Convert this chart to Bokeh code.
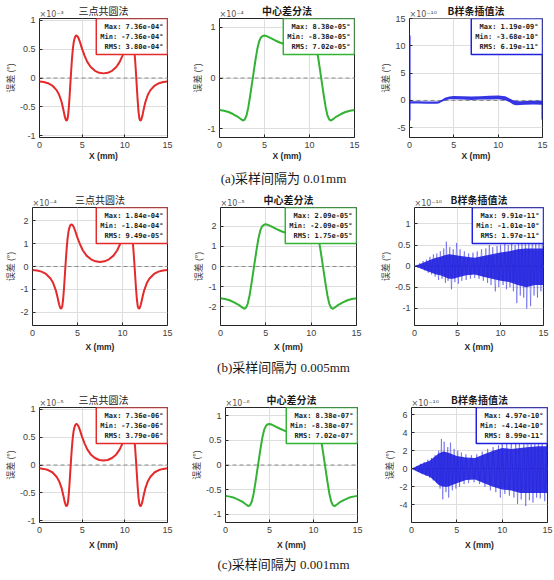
from bokeh.plotting import figure
from bokeh.models import Range1d, FixedTicker, Label, Span, Title
from bokeh.layouts import column, row
from bokeh.embed import file_html
from bokeh.resources import INLINE

# ---------------- data ----------------
titles = ["三点共圆法", "中心差分法", "B样条插值法"]
captions = ["(a)采样间隔为 0.01mm", "(b)采样间隔为 0.005mm", "(c)采样间隔为 0.001mm"]
x_ticks = [0, 5, 10, 15]

stat_max = [[7.36e-04, 8.38e-05, 1.19e-09], [1.84e-04, 2.09e-05, 9.91e-11], [7.36e-06, 8.38e-07, 4.97e-10]]
stat_min = [[-7.36e-04, -8.38e-05, -3.68e-10], [-1.84e-04, -2.09e-05, -1.01e-10], [-7.36e-06, -8.38e-07, -4.14e-10]]
stat_rms = [[3.80e-04, 7.02e-05, 6.19e-11], [9.49e-05, 1.75e-05, 1.97e-11], [3.79e-06, 7.02e-07, 8.99e-11]]
exponents = [[-3, -4, -10], [-4, -5, -10], [-5, -6, -10]]
y_ticks = [
    [[-1, -0.5, 0, 0.5, 1], [-1, 0, 1], [-5, 0, 5, 10, 15]],
    [[-2, -1, 0, 1, 2], [-2, -1, 0, 1, 2], [-1, -0.5, 0, 0.5, 1]],
    [[-1, -0.5, 0, 0.5, 1], [-1, -0.5, 0, 0.5, 1], [-4, -2, 0, 2, 4, 6]],
]

# three-point circle method (values in axis units, x10^exp)
tp_x = [0, 0.5, 1.0, 1.5, 2.0, 2.3, 2.6, 2.8, 2.95, 3.1, 3.2, 3.3, 3.4, 3.5, 3.6, 3.7, 3.8, 3.9, 4.0, 4.1,
        4.2, 4.3, 4.4, 4.55, 4.75, 5.0, 5.3, 5.6, 6.0, 6.5, 7.0, 7.5,
        8.0, 8.5, 9.0, 9.4, 9.7, 10.0, 10.25, 10.45, 10.6, 10.7, 10.8, 10.9, 11.0, 11.1, 11.2, 11.3,
        11.4, 11.5, 11.6, 11.7, 11.8, 11.9, 12.05, 12.2, 12.4, 12.7, 13.0, 13.5, 14.0, 14.5, 15.0]
tp_y_a = [-0.06, -0.07, -0.09, -0.13, -0.21, -0.29, -0.42, -0.55, -0.66, -0.73, -0.736, -0.70, -0.58, -0.38,
          -0.14, 0.10, 0.32, 0.49, 0.61, 0.68, 0.72, 0.736, 0.73, 0.70, 0.62, 0.50, 0.38, 0.28, 0.19, 0.125,
          0.09, 0.08,
          0.09, 0.125, 0.19, 0.28, 0.38, 0.50, 0.62, 0.70, 0.73, 0.736, 0.72, 0.68, 0.61, 0.49, 0.32, 0.10,
          -0.14, -0.38, -0.58, -0.70, -0.736, -0.73, -0.66, -0.55, -0.42, -0.29, -0.21, -0.13, -0.09, -0.07, -0.06]
tp_y_b = [-0.15, -0.175, -0.225, -0.325, -0.525, -0.725, -1.05, -1.375, -1.65, -1.825, -1.84, -1.75, -1.45,
          -0.95, -0.35, 0.25, 0.80, 1.225, 1.525, 1.70, 1.80, 1.84, 1.825, 1.75, 1.55, 1.25, 0.95, 0.70, 0.475,
          0.3125, 0.225, 0.20,
          0.225, 0.3125, 0.475, 0.70, 0.95, 1.25, 1.55, 1.75, 1.825, 1.84, 1.80, 1.70, 1.525, 1.225, 0.80, 0.25,
          -0.35, -0.95, -1.45, -1.75, -1.84, -1.825, -1.65, -1.375, -1.05, -0.725, -0.525, -0.325, -0.225,
          -0.175, -0.15]
tp_y_c = [-0.06, -0.07, -0.09, -0.13, -0.21, -0.29, -0.42, -0.55, -0.66, -0.73, -0.736, -0.70, -0.58, -0.38,
          -0.14, 0.10, 0.32, 0.49, 0.61, 0.68, 0.72, 0.736, 0.73, 0.70, 0.62, 0.50, 0.38, 0.28, 0.19, 0.125,
          0.09, 0.08,
          0.09, 0.125, 0.19, 0.28, 0.38, 0.50, 0.62, 0.70, 0.73, 0.736, 0.72, 0.68, 0.61, 0.49, 0.32, 0.10,
          -0.14, -0.38, -0.58, -0.70, -0.736, -0.73, -0.66, -0.55, -0.42, -0.29, -0.21, -0.13, -0.09, -0.07, -0.06]

# central difference method
cd_x = [0, 0.5, 1.0, 1.5, 2.0, 2.3, 2.6, 2.8, 3.0, 3.2, 3.4, 3.6, 3.8, 4.0, 4.2, 4.4, 4.6, 4.8, 5.0, 5.3,
        5.7, 6.2, 6.7, 7.1, 7.5,
        7.9, 8.3, 8.8, 9.3, 9.7, 10.0, 10.2, 10.4, 10.6, 10.8, 11.0, 11.2, 11.4, 11.6, 11.8, 12.0, 12.2,
        12.4, 12.7, 13.0, 13.5, 14.0, 14.5, 15.0]
cd_y_a = [-0.63, -0.645, -0.67, -0.71, -0.76, -0.80, -0.838, -0.82, -0.74, -0.58, -0.36, -0.12, 0.12, 0.36,
          0.57, 0.72, 0.80, 0.83, 0.838, 0.82, 0.785, 0.74, 0.70, 0.675, 0.668,
          0.675, 0.70, 0.74, 0.785, 0.82, 0.838, 0.83, 0.80, 0.72, 0.57, 0.36, 0.12, -0.12, -0.36, -0.58,
          -0.74, -0.82, -0.838, -0.80, -0.76, -0.71, -0.67, -0.645, -0.63]
cd_y_b = [-1.575, -1.6125, -1.675, -1.775, -1.90, -2.0, -2.095, -2.05, -1.85, -1.45, -0.90, -0.30, 0.30,
          0.90, 1.425, 1.80, 2.0, 2.075, 2.095, 2.05, 1.9625, 1.85, 1.75, 1.6875, 1.67,
          1.6875, 1.75, 1.85, 1.9625, 2.05, 2.095, 2.075, 2.0, 1.80, 1.425, 0.90, 0.30, -0.30, -0.90, -1.45,
          -1.85, -2.05, -2.095, -2.0, -1.90, -1.775, -1.675, -1.6125, -1.575]
cd_y_c = [-0.63, -0.645, -0.67, -0.71, -0.76, -0.80, -0.838, -0.82, -0.74, -0.58, -0.36, -0.12, 0.12, 0.36,
          0.57, 0.72, 0.80, 0.83, 0.838, 0.82, 0.785, 0.74, 0.70, 0.675, 0.668,
          0.675, 0.70, 0.74, 0.785, 0.82, 0.838, 0.83, 0.80, 0.72, 0.57, 0.36, 0.12, -0.12, -0.36, -0.58,
          -0.74, -0.82, -0.838, -0.80, -0.76, -0.71, -0.67, -0.645, -0.63]

# B-spline interpolation: dense band (low/high) + spikes
bs_a_x = [0.02, 1, 2, 3, 3.3, 3.6, 4.0, 4.5, 5, 6, 7, 8, 9, 10, 10.8, 11.3, 11.7, 12, 12.5, 13, 14, 14.98]
bs_a_lo = [-0.55, -0.55, -0.6, -0.6, -0.55, -0.3, 0.0, 0.2, 0.2, 0.15, 0.1, 0.15, 0.15, 0.2, 0.05, -0.35,
           -0.75, -0.9, -0.85, -0.8, -0.75, -0.8]
bs_a_hi = [-0.15, -0.15, -0.2, -0.2, -0.15, 0.1, 0.5, 0.7, 0.8, 0.75, 0.7, 0.75, 0.85, 0.9, 0.75, 0.35,
           0.05, -0.1, -0.15, -0.1, -0.05, -0.05]
bs_a_edge_x = [0, 15]
bs_a_edge_top = [11.9, 11.5]
bs_a_edge_bot = [-3.68, -3.5]

bs_b_x = [0, 0.5, 1, 1.5, 2, 2.5, 3, 3.5, 4, 4.5, 5, 6, 7, 8, 9, 10, 11, 12, 13, 14, 15]
bs_b_hi = [0, 0.04, 0.08, 0.12, 0.16, 0.2, 0.22, 0.26, 0.28, 0.27, 0.25, 0.22, 0.2, 0.24, 0.28, 0.32, 0.35,
           0.4, 0.42, 0.42, 0.42]
bs_b_lo = [0, -0.04, -0.08, -0.12, -0.16, -0.2, -0.22, -0.26, -0.3, -0.3, -0.27, -0.22, -0.2, -0.25, -0.3,
           -0.35, -0.38, -0.45, -0.5, -0.45, -0.45]
bs_b_zx = [0.2, 0.4, 0.6, 0.8, 1.0, 1.2, 1.4, 1.6, 1.8, 2.0, 2.2, 2.4, 2.6, 2.8, 3.0, 3.2, 3.4, 3.6,
           3.7, 3.9, 4.1, 4.3, 4.5, 4.7, 4.9, 5.1, 5.3, 5.5,
           5.8, 6.0, 6.3, 6.5, 6.8, 7.0, 7.3, 7.5, 7.8, 8.0, 8.3, 8.5,
           8.7, 8.9, 9.1, 9.4, 9.6, 9.8, 10.0, 10.3, 10.5, 10.7, 10.9, 11.1, 11.3, 11.5, 11.7, 11.9,
           12.1, 12.3, 12.5, 12.7, 12.9, 13.05, 13.3, 13.5, 13.7, 13.9, 14.1, 14.3, 14.5, 14.7, 14.85, 15.0]
bs_b_zy = [0.03, -0.04, 0.07, -0.06, 0.12, -0.10, 0.15, -0.16, 0.22, -0.20, 0.28, -0.25, 0.30, -0.33, 0.35,
           -0.30, 0.42, -0.40,
           0.58, -0.35, 0.45, -0.55, 0.40, -0.38, 0.55, -0.42, 0.40, -0.35,
           0.35, -0.33, 0.30, -0.30, 0.32, -0.28, 0.35, -0.30, 0.40, -0.35, 0.42, -0.40,
           0.50, -0.45, 0.45, -0.60, 0.48, -0.50, 0.50, -0.45, 0.57, -0.55, 0.50, -0.50, 0.55, -0.60, 0.50, -0.88,
           0.55, -0.70, 0.60, -0.75, 0.70, -1.01, 0.75, -0.95, 0.80, -0.70, 0.70, -0.75, 0.991, -0.60, 0.65, -0.80]

bs_c_x = [0, 0.5, 1, 1.5, 2, 2.5, 3, 3.5, 4, 4.5, 5, 6, 7, 8, 9, 10, 11, 12, 13, 14, 15]
bs_c_hi = [0, 0.25, 0.5, 0.7, 0.9, 1.3, 1.7, 1.9, 1.8, 1.6, 1.4, 1.25, 1.2, 1.6, 2.0, 2.3, 2.2, 2.3, 2.4,
           2.5, 2.5]
bs_c_lo = [0, -0.25, -0.5, -0.7, -0.9, -1.3, -1.8, -2.0, -2.0, -1.8, -1.6, -1.25, -1.2, -1.6, -2.0, -2.3,
           -2.4, -2.7, -2.7, -2.7, -2.7]
bs_c_zx = [0.2, 0.4, 0.6, 0.8, 1.0, 1.2, 1.4, 1.6, 1.8, 2.0, 2.2, 2.4, 2.6, 2.8, 3.0,
           3.15, 3.3, 3.45, 3.6, 3.8, 4.0, 4.1, 4.3, 4.5, 4.7, 4.9, 5.1, 5.3, 5.5,
           5.8, 6.0, 6.3, 6.6, 6.9, 7.2, 7.5, 7.8, 8.1, 8.4, 8.7, 9.0, 9.3, 9.6, 9.8,
           10.0, 10.3, 10.5, 10.8, 11.0, 11.3, 11.5, 11.7, 11.9, 12.1, 12.4, 12.6, 12.8, 13.0,
           13.2, 13.4, 13.6, 13.8, 14.0, 14.2, 14.4, 14.7, 14.9, 15.0]
bs_c_zy = [0.1, -0.15, 0.3, -0.35, 0.55, -0.6, 0.75, -0.8, 1.0, -1.0, 1.2, -1.3, 1.5, -1.6, 2.0,
           -2.2, 3.3, -3.4, 3.0, -2.6, 2.4, -3.2, 2.9, -2.4, 2.2, -2.2, 2.0, -2.0, 1.8,
           -1.7, 1.6, -1.6, 1.5, -1.5, 1.6, -1.7, 1.9, -2.0, 2.2, -2.4, 2.4, -2.6, 2.6, -3.2,
           2.8, -2.8, 3.0, -3.0, 3.2, -3.2, 3.0, -3.9, 3.3, -3.4, 3.5, -4.14, 4.97, -3.5,
           3.8, -3.75, 3.6, -3.2, 3.5, -3.3, 3.4, -3.6, 3.2, -3.0]

# ---------------- styling / layout ----------------
COLORS = ["#e42a2a", "#33b233", "#1f1fe0"]
SUP = str.maketrans("-0123456789", "⁻⁰¹²³⁴⁵⁶⁷⁸⁹")
FRAME = "#262626"

ROWGEOM = [
    dict(w=[185, 185, 184], l=[38, 34, 39], r=[18, 16, 12], t=18, h=165, b=28, xs=0),
    dict(w=[185, 185, 184], l=[32, 35, 44], r=[18, 14, 11], t=17, h=165, b=30, xs=3),
    dict(w=[185, 185, 184], l=[35, 40, 41], r=[18, 13, 7], t=29, h=174, b=25, xs=4),
]
CAP_H = [25, 23, 24]

curves = {
    (0, 0): (tp_x, tp_y_a), (1, 0): (tp_x, tp_y_b), (2, 0): (tp_x, tp_y_c),
    (0, 1): (cd_x, cd_y_a), (1, 1): (cd_x, cd_y_b), (2, 1): (cd_x, cd_y_c),
}


def make_panel(r, c):
    g = ROWGEOM[r]
    scale = 10.0 ** exponents[r][c]
    mx, mn = stat_max[r][c] / scale, stat_min[r][c] / scale
    pad = 0.2 * (mx - mn)
    y0, y1 = mn - pad, mx + pad
    color = COLORS[c]
    p = figure(width=g["w"][c], height=g["h"], x_range=Range1d(0, 15), y_range=Range1d(y0, y1),
               toolbar_location=None, output_backend="svg",
               min_border_left=g["l"][c], min_border_right=g["r"][c],
               min_border_top=g["t"], min_border_bottom=g["b"], title=titles[c])
    p.title.align = "center"
    p.title.text_font = "Noto Sans CJK SC"
    p.title.text_font_size = "10px"
    p.title.text_font_style = "normal" if c == 0 else "bold"
    p.title.text_color = "#1a1a1a"
    p.title.standoff = -18
    p.title.offset = 0

    p.outline_line_color = FRAME
    p.outline_line_width = 1
    p.outline_line_alpha = 1
    p.grid.grid_line_color = "#dedede"
    p.grid.grid_line_width = 1

    p.xaxis.ticker = FixedTicker(ticks=x_ticks)
    yt = y_ticks[r][c]
    p.yaxis.ticker = FixedTicker(ticks=yt)
    p.yaxis.major_label_overrides = {t: f"{t:g}" for t in yt}
    for ax in (p.xaxis[0], p.yaxis[0]):
        ax.axis_line_color = None
        ax.major_tick_in = 3
        ax.major_tick_out = 0
        ax.major_tick_line_color = FRAME
        ax.minor_tick_line_color = None
        ax.major_label_text_font = "Liberation Sans"
        ax.major_label_text_font_size = "9px"
        ax.major_label_text_color = "#404040"
        ax.major_label_standoff = 4
    p.xaxis.axis_label = "X (mm)"
    p.xaxis.axis_label_text_font = "Liberation Sans"
    p.xaxis.axis_label_text_font_size = "8.5px"
    p.xaxis.axis_label_text_font_style = "bold"
    p.xaxis.axis_label_text_color = "#262626"
    p.xaxis.axis_label_standoff = g["xs"]
    p.yaxis.axis_label = "误差 (°)"
    p.yaxis.axis_label_text_font = "Noto Sans CJK SC"
    p.yaxis.axis_label_text_font_size = "9px"
    p.yaxis.axis_label_text_font_style = "normal"
    p.yaxis.axis_label_text_color = "#404040"
    p.yaxis.axis_label_standoff = 0

    p.add_layout(Span(location=0, dimension="width", line_color="#8a8a8a", line_dash="4 3",
                      line_width=1, level="underlay"))

    if c < 2:
        xs, ys = curves[(r, c)]
        p.line(xs, ys, line_color=color, line_width=2)
    else:
        if r == 0:
            p.varea(x=bs_a_x, y1=bs_a_lo, y2=bs_a_hi, fill_color=color, fill_alpha=0.9)
            p.segment(x0=bs_a_edge_x, y0=bs_a_edge_top, x1=bs_a_edge_x, y1=bs_a_edge_bot,
                      line_color=color, line_width=2)
        elif r == 1:
            p.varea(x=bs_b_x, y1=bs_b_lo, y2=bs_b_hi, fill_color=color, fill_alpha=0.9)
            p.line(bs_b_zx, bs_b_zy, line_color=color, line_width=0.7, line_alpha=0.6)
        else:
            p.varea(x=bs_c_x, y1=bs_c_lo, y2=bs_c_hi, fill_color=color, fill_alpha=0.9)
            p.line(bs_c_zx, bs_c_zy, line_color=color, line_width=0.7, line_alpha=0.6)

    txt = (f"Max: {stat_max[r][c]:.2e}°\nMin: {stat_min[r][c]:.2e}°\nRMS: {stat_rms[r][c]:.2e}°")
    p.add_layout(Label(x=15, y=y1, text=txt, text_align="right", text_baseline="top",
                       text_font="DejaVu Sans Mono", text_font_size="7px", text_font_style="bold",
                       text_color="#1a1a1a", text_line_height=1.25,
                       background_fill_color="white", border_line_color=color, border_line_width=1.5,
                       padding=4))
    # axis multiplier (x10^n) sits in the title band, at the left of the frame
    mult = "×10" + str(exponents[r][c]).translate(SUP)
    p.add_layout(Title(text=mult, align="left", text_font="DejaVu Sans", text_font_size="8px",
                       text_font_style="normal", text_color="#555555", standoff=-1), "above")
    return p


def make_caption(i):
    p = figure(width=554, height=CAP_H[i], x_range=Range1d(0, 1), y_range=Range1d(0, 1),
               x_axis_type=None, y_axis_type=None, toolbar_location=None, output_backend="svg",
               min_border=0, outline_line_color=None)
    p.add_layout(Label(x=0.5, y=0.5, x_offset=6, text=captions[i], text_align="center",
                       text_baseline="middle", text_font="Liberation Serif, Noto Sans CJK SC",
                       text_font_size="13px", text_color="#1a1a1a"))
    return p


children = []
for r in range(3):
    children.append(row(*[make_panel(r, c) for c in range(3)]))
    children.append(make_caption(r))
layout = column(*children)

open("out.html", "w").write(file_html(layout, INLINE))
